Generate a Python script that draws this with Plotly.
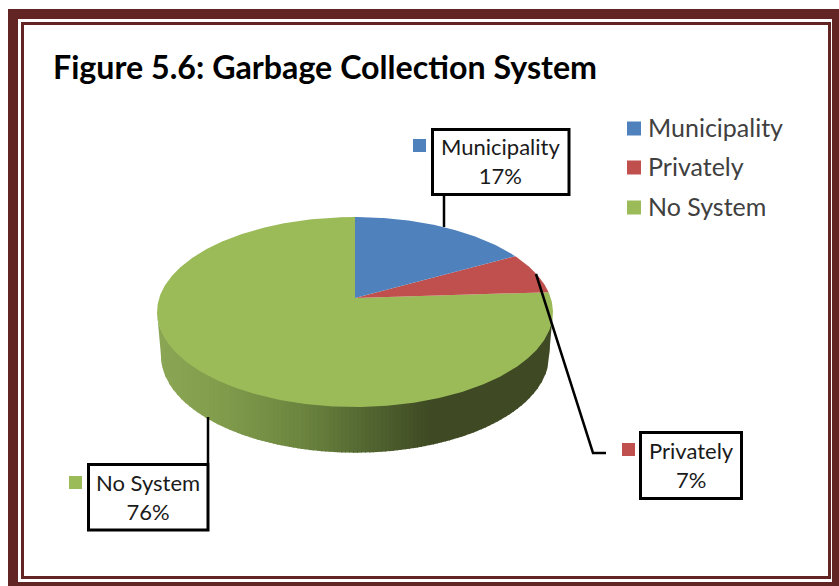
import numpy as np
import plotly.graph_objects as go

categories = ["Municipality", "Privately", "No System"]
shares = [17, 7, 76]
colors = ["#4F81BD", "#C0504D", "#9BBB59"]

W, H = 839, 586
FRAME = "#632523"
CX, CY = 355, 298          # pie apex in the page
R, S, K = 195.8, 92.9, 0.1474  # perspective of the tilted disc
FONT = "Lato"


def rim(theta, sx=1.0, sy=1.0, dy=0.0):
    """Project a clockwise-from-top angle on to the tilted disc."""
    u, v = np.sin(theta), np.cos(theta)
    d = 1 + K * v
    return CX + sx * R * u / d, CY + dy - sy * S * v / d


fig = go.Figure()

# side wall: vertical strips following the shading of the reference
lo = np.linspace(np.pi / 2 - 0.25, 3 * np.pi / 2 + 0.25, 721)
tx, ty = rim(lo)
bx, by = rim(lo, sx=0.98, sy=1.02, dy=43.5)
i0, i1 = sorted((np.argmin(tx), np.argmax(tx)))
up_x, up_y = tx[i0:i1 + 1], ty[i0:i1 + 1]
up_o = np.argsort(up_x)
up_x, up_y = up_x[up_o], up_y[up_o]
j0, j1 = sorted((np.argmin(bx), np.argmax(bx)))
dn_x, dn_y = bx[j0:j1 + 1], by[j0:j1 + 1]
dn_o = np.argsort(dn_x)
dn_x, dn_y = dn_x[dn_o], dn_y[dn_o]
out_x = np.r_[up_x[0], dn_x, up_x[-1]]
out_y = np.r_[up_y[0], dn_y, up_y[-1]]

stop_x = [157, 210, 300, 360, 430, 553]
stop_rgb = np.array([[139, 166, 84], [132, 160, 78], [109, 134, 64],
                     [86, 106, 51], [63, 74, 36], [64, 74, 37]])
edges = np.arange(up_x[0], up_x[-1] + 4, 4.0)
for a, b in zip(edges[:-1], edges[1:]):
    xs = np.arange(a, min(b + 1, up_x[-1]) + 0.5, 0.5)
    mid = (a + b) / 2
    rgb = [int(np.interp(mid, stop_x, stop_rgb[:, c])) for c in range(3)]
    fig.add_trace(go.Scatter(
        x=np.r_[xs, xs[::-1]],
        y=np.r_[np.interp(xs, up_x, up_y) - 1, np.interp(xs[::-1], out_x, out_y)],
        mode="lines", line=dict(width=0), fill="toself",
        fillcolor=f"rgb({rgb[0]},{rgb[1]},{rgb[2]})",
        hoverinfo="skip", showlegend=False))

# top face: slices from the shares
cum = np.cumsum([0] + shares) / sum(shares) * 2 * np.pi
for name, c, a, b, v in reversed(list(zip(categories, colors, cum[:-1], cum[1:], shares))):
    th = np.linspace(a, b, max(int((b - a) * 90), 8))
    x, y = rim(th)
    fig.add_trace(go.Scatter(
        x=np.r_[CX, x, CX], y=np.r_[CY, y, CY], mode="lines",
        line=dict(width=0), fill="toself", fillcolor=c, name=name,
        text=f"{name}: {v}%", hoverinfo="text", showlegend=False))

# leader lines
leaders = [([444, 444], [195, 227]),
           ([536, 593, 606], [274, 453, 453]),
           ([208, 208], [417, 463])]
for lx, ly in leaders:
    fig.add_trace(go.Scatter(x=lx, y=ly, mode="lines",
                             line=dict(color="black", width=2.5),
                             hoverinfo="skip", showlegend=False))

shapes = [
    dict(type="rect", x0=13, y0=14, x1=837, y1=587, line=dict(color=FRAME, width=10)),
    dict(type="rect", x0=22.5, y0=23.5, x1=829.5, y1=577.5, line=dict(color=FRAME, width=3)),
]

label_boxes = [(432.5, 129.5, 569, 194.5), (640.5, 432.5, 741.5, 498.5), (88.5, 464.5, 208, 530)]
label_keys = [(413, 139), (622, 443), (69, 476)]
label_dy = [-1, -1, 0]
legend_y = [128.5, 167.5, 207.5]
annotations = [dict(x=50.5, y=66, xref="x", yref="y", xanchor="left", yanchor="middle",
                    text="<b>Figure 5.6: Garbage Collection System</b>", showarrow=False,
                    font=dict(family=FONT, size=32.2, color="black"))]

for name, c, v, box, key, ly, ldy in zip(categories, colors, shares, label_boxes, label_keys, legend_y, label_dy):
    x0, y0, x1, y1 = box
    shapes.append(dict(type="rect", x0=x0, y0=y0, x1=x1, y1=y1,
                       fillcolor="white", line=dict(color="black", width=3)))
    shapes.append(dict(type="rect", x0=key[0], y0=key[1], x1=key[0] + 13, y1=key[1] + 13,
                       fillcolor=c, line=dict(width=0)))
    shapes.append(dict(type="rect", x0=627, y0=ly - 7, x1=641, y1=ly + 7,
                       fillcolor=c, line=dict(width=0)))
    annotations.append(dict(x=(x0 + x1) / 2, y=(y0 + y1) / 2 + ldy, xref="x", yref="y",
                            text=f"{name}<br>{v}%", showarrow=False, align="center",
                            font=dict(family=FONT, size=22, color="#1a1a1a")))
    annotations.append(dict(x=645.5, y=ly - 2, xref="x", yref="y", xanchor="left", yanchor="middle",
                            text=name, showarrow=False,
                            font=dict(family=FONT, size=25, color="#404040")))

fig.update_layout(
    width=W, height=H, margin=dict(l=0, r=0, t=0, b=0),
    paper_bgcolor="white", plot_bgcolor="white", showlegend=False,
    xaxis=dict(range=[0, W], visible=False, fixedrange=True),
    yaxis=dict(range=[H, 0], visible=False, fixedrange=True),
    shapes=shapes, annotations=annotations,
)
fig.write_html("out.html", config=dict(displayModeBar=False),
               post_script="document.body.style.margin='0';document.body.style.overflow='hidden';")
